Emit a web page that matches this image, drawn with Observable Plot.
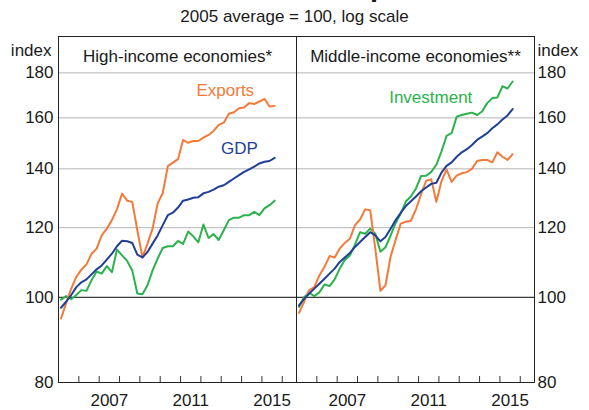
<!DOCTYPE html>
<html>
<head>
<meta charset="utf-8">
<script src="https://cdn.jsdelivr.net/npm/d3@7"></script>
<script src="https://cdn.jsdelivr.net/npm/@observablehq/plot@0.6"></script>
<style>
  html, body { margin: 0; padding: 0; background: #fff; }
  body { width: 589px; height: 410px; overflow: hidden; font-family: "Liberation Sans", Arial, sans-serif; color: #1a1a1a; }
  #head { position: relative; height: 30px; overflow: hidden; }
  #title { position: absolute; left: 0; width: 589px; top: -28px; text-align: center; font-weight: bold; font-size: 29px; line-height: 29px; color: #1a1a1a; white-space: nowrap; }
  #subtitle { position: absolute; left: 0; width: 589px; top: 7px; text-align: center; font-size: 17px; line-height: 20px; }
</style>
</head>
<body>
<div id="head">
  <div id="title">Real GDP and Components</div>
  <div id="subtitle">2005 average = 100, log scale</div>
</div>
<div id="chart"></div>
<script>
const panels = ["High-income economies*", "Middle-income economies**"];
const seriesNames = ["Investment", "Exports", "GDP"];
const seriesColors = ["#2bb24c", "#f47a3a", "#1f3f98"];

const quarters = [
  "2005Q1","2005Q2","2005Q3","2005Q4","2006Q1","2006Q2","2006Q3","2006Q4",
  "2007Q1","2007Q2","2007Q3","2007Q4","2008Q1","2008Q2","2008Q3","2008Q4",
  "2009Q1","2009Q2","2009Q3","2009Q4","2010Q1","2010Q2","2010Q3","2010Q4",
  "2011Q1","2011Q2","2011Q3","2011Q4","2012Q1","2012Q2","2012Q3","2012Q4",
  "2013Q1","2013Q2","2013Q3","2013Q4","2014Q1","2014Q2","2014Q3","2014Q4",
  "2015Q1","2015Q2","2015Q3"
];

// High-income economies
const highGDP = [97.3, 98.9, 100.6, 102.7, 104.0, 104.8, 106.2, 107.6, 108.7, 110.4, 112.1, 114.3, 116.0, 115.8, 115.3, 111.8, 111.0, 112.6, 115.1, 117.6, 120.8, 124.0, 124.8, 126.5, 128.8, 129.2, 129.8, 130.0, 131.3, 131.8, 132.6, 133.6, 134.1, 135.3, 136.5, 137.7, 138.9, 139.8, 140.8, 142.0, 142.6, 142.9, 144.1];
const highExports = [94.6, 98.5, 102.3, 105.5, 107.5, 109.0, 112.1, 113.6, 117.6, 119.7, 122.4, 126.0, 131.2, 128.8, 128.4, 119.2, 111.0, 115.1, 119.7, 127.9, 131.4, 141.0, 142.3, 143.6, 151.0, 149.9, 150.6, 150.6, 151.9, 153.0, 154.6, 157.1, 158.0, 161.7, 162.4, 164.1, 164.4, 166.3, 165.9, 167.0, 168.2, 164.8, 165.1];
const highInvestment = [99.4, 100.3, 99.5, 100.6, 101.9, 101.7, 104.6, 107.0, 106.4, 108.5, 106.8, 113.3, 111.6, 110.0, 107.3, 101.0, 100.8, 103.2, 107.3, 110.7, 113.8, 114.3, 114.3, 115.9, 115.0, 118.8, 117.3, 115.5, 121.0, 116.8, 118.0, 116.2, 119.2, 122.4, 123.2, 123.2, 124.0, 124.0, 125.1, 124.0, 126.2, 127.3, 128.8];

// Middle-income economies
const midGDP = [97.9, 99.6, 101.0, 102.3, 103.6, 105.0, 106.4, 107.8, 109.7, 111.0, 112.3, 114.1, 115.6, 117.1, 118.6, 117.6, 115.8, 117.1, 119.7, 122.4, 124.8, 127.0, 128.6, 130.2, 132.0, 133.3, 134.6, 135.0, 138.6, 141.1, 142.4, 144.5, 146.2, 147.4, 149.0, 151.0, 152.3, 153.7, 155.7, 157.3, 159.3, 161.0, 163.7];
const midExports = [96.0, 98.8, 101.9, 102.7, 105.9, 108.3, 111.4, 111.0, 113.6, 115.3, 116.6, 120.8, 122.6, 125.9, 125.6, 113.5, 101.7, 103.2, 111.2, 116.3, 121.3, 121.9, 122.2, 126.0, 131.0, 135.7, 136.2, 128.4, 135.5, 139.8, 135.3, 137.5, 138.4, 138.8, 140.0, 142.9, 143.3, 143.3, 142.4, 146.2, 144.5, 143.3, 145.5];
const midInvestment = [97.5, 100.0, 101.2, 100.3, 101.3, 103.4, 103.0, 104.8, 107.8, 110.3, 111.6, 114.8, 118.6, 118.1, 119.7, 118.1, 112.7, 114.0, 117.5, 121.5, 124.5, 128.5, 130.2, 133.0, 137.4, 137.5, 138.9, 141.5, 146.5, 152.6, 153.7, 160.5, 161.2, 161.7, 162.2, 161.2, 162.7, 166.3, 168.5, 168.8, 173.8, 172.8, 176.0];

const yTicks = [80, 100, 120, 140, 160, 180];
const gridValues = [120, 140, 160, 180];
const baseValue = [100];
const yearTicks = [2006, 2007, 2008, 2009, 2010, 2011, 2012, 2013, 2014, 2015, 2016];
const labelYears = [2007, 2011, 2015];
const xDomain = [2005, 2016.7];
const yDomain = [80, 198];

// series labels: name, panel, position in data units
const labelNames = ["Exports", "GDP", "Investment"];
const labelPanels = [panels[0], panels[0], panels[1]];
const labelX = [2013.2, 2013.9, 2011.6];
const labelY = [171.7, 147.5, 168.6];

const toYear = q => +q.slice(0, 4) + (+q.slice(5) - 0.5) / 4;

const table = [];
const add = (panel, series, values) => values.forEach((v, i) => table.push({panel, series, date: toYear(quarters[i]), value: v}));
add(panels[0], "Investment", highInvestment);
add(panels[0], "Exports", highExports);
add(panels[0], "GDP", highGDP);
add(panels[1], "Investment", midInvestment);
add(panels[1], "Exports", midExports);
add(panels[1], "GDP", midGDP);

const labels = labelNames.map((name, i) => ({name, panel: labelPanels[i], x: labelX[i], y: labelY[i]}));
const colorOf = name => seriesColors[seriesNames.indexOf(name)];

const height = 380, marginTop = 6, marginBottom = 28, tickLen = 6;

const chart = Plot.plot({
  width: 589,
  height,
  marginLeft: 57,
  marginRight: 55,
  marginTop,
  marginBottom,
  style: {fontFamily: "'Liberation Sans', Arial, sans-serif", fontSize: "17px", color: "#1a1a1a", background: "#fff"},
  fx: {domain: panels, padding: 0, axis: null},
  x: {domain: xDomain, axis: null},
  y: {type: "log", domain: yDomain, axis: null},
  color: {domain: seriesNames, range: seriesColors},
  marks: [
    Plot.ruleY(gridValues, {stroke: "#b5b5b5", strokeWidth: 1}),
    Plot.ruleY(baseValue, {stroke: "#3a3a3a", strokeWidth: 1.3}),
    Plot.tickX(yearTicks, {x: d => d, insetTop: height - marginTop - marginBottom - tickLen, stroke: "#333", strokeWidth: 1}),
    Plot.line(table, {x: "date", y: "value", stroke: "series", fx: "panel", z: "series", strokeWidth: 2}),
    Plot.frame({stroke: "#222", strokeWidth: 1}),
    Plot.axisY({anchor: "left", ticks: yTicks, tickSize: 0, tickPadding: 5, tickFormat: d => String(d), label: null, fontSize: 17}),
    Plot.axisY({anchor: "right", ticks: yTicks, tickSize: 0, tickPadding: 3, tickFormat: d => String(d), label: null, fontSize: 17}),
    Plot.axisX({ticks: labelYears.map(y => y + 0.5), tickSize: 0, tickPadding: 11, tickFormat: d => String(Math.floor(d)), label: null, fontSize: 17}),
    Plot.text([{panel: panels[0]}], {fx: "panel", frameAnchor: "top-left", text: () => "index", dx: -7, dy: 7, textAnchor: "end", fontSize: 17}),
    Plot.text([{panel: panels[1]}], {fx: "panel", frameAnchor: "top-right", text: () => "index", dx: 3, dy: 7, textAnchor: "start", fontSize: 17}),
    Plot.text(panels.map(p => ({panel: p})), {fx: "panel", frameAnchor: "top", text: "panel", dy: 13, fontSize: 17}),
    Plot.text(labels, {fx: "panel", x: "x", y: "y", text: "name", fill: d => colorOf(d.name), fontSize: 17})
  ]
});
document.getElementById("chart").appendChild(chart);
</script>
</body>
</html>
